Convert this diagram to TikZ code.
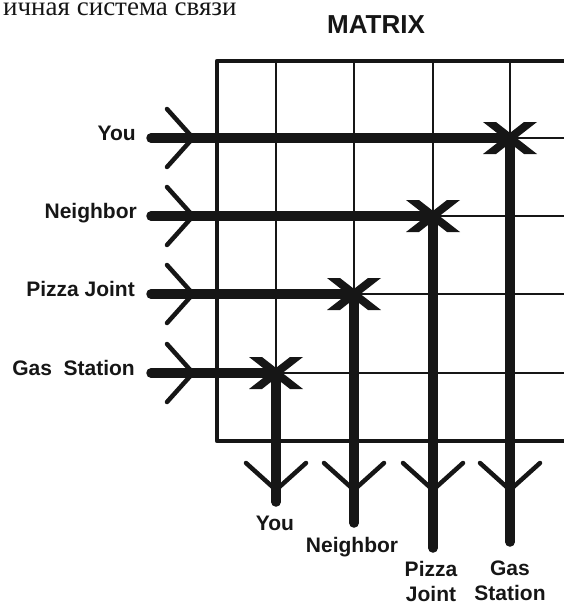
\documentclass[tikz,border=0pt]{standalone}
\usepackage{fontspec}
\setmainfont{Liberation Sans}
\newfontfamily\cyrserif{Liberation Serif}
\usepackage{xcolor}
\usetikzlibrary{positioning}
\definecolor{ink}{HTML}{161616}

\begin{document}
\begin{tikzpicture}[
  x=1pt,y=-1pt,
  every node/.style={inner sep=0pt,text=ink},
  lbl/.style={font=\fontsize{21}{25}\selectfont\bfseries,align=center},
  frame/.style={draw=ink,line width=4.5pt,line join=round},
  gridline/.style={draw=ink,line width=2.5pt},
  bus/.style={draw=ink,line width=9.5pt,line cap=round},
  chev/.style={draw=ink,line width=4.5pt,line cap=round,line join=miter},
  switchx/.pic={
    \fill[ink] (-27,-16) -- (-14,-16) -- (27,16) -- (14,16) -- cycle;
    \fill[ink] (27,-16) -- (14,-16) -- (-27,16) -- (-14,16) -- cycle;}]
  \useasboundingbox (0,0) rectangle (564,605);

  % title, cut off by the page
  \node[font=\cyrserif\fontsize{27}{30}\selectfont,anchor=base west] (title) at (3,15) {ичная система связи};
  \node[font=\fontsize{26}{30}\selectfont\bfseries,anchor=base] (hdr) at (376,33) {MATRIX};

  % grid
  \coordinate (tl) at (217,61);
  \coordinate (bl) at (217,441);
  \draw[gridline] (276,61) -- (276,441);
  \draw[gridline] (354,61) -- (354,441);
  \draw[gridline] (433,61) -- (433,441);
  \draw[gridline] (510,61) -- (510,441);
  \draw[gridline] (217,138) -- (575,138);
  \draw[gridline] (217,216) -- (575,216);
  \draw[gridline] (217,294) -- (575,294);
  \draw[gridline] (217,373) -- (575,373);
  \draw[frame] (575,61) -- (tl) -- (bl) -- (575,441);

  % callers
  \node[lbl,anchor=mid east] (inYou) at (136,138) {You};
  \node[lbl,anchor=mid east] (inNeighbor) at (137,216) {Neighbor};
  \node[lbl,anchor=mid east] (inPizza) at (135,294) {Pizza Joint};
  \node[lbl,anchor=mid east] (inGas) at (135,373) {Gas\ \ Station};

  % called parties
  \node[lbl,anchor=base] (outYou) at (275,530) {You};
  \node[lbl,anchor=base] (outNeighbor) at (352,552) {Neighbor};
  \node[lbl,anchor=north] (outPizza) at (431,561) {Pizza\\Joint};
  \node[lbl,anchor=north] (outGas) at (510,561) {Gas\\Station};

  % crosspoints
  \coordinate (xYou) at (510,138);
  \coordinate (xNeighbor) at (433,216);
  \coordinate (xPizza) at (354,294);
  \coordinate (xGas) at (276,373);

  % line ends
  \coordinate (sYou) at (151,138);
  \coordinate (sNeighbor) at (151,216);
  \coordinate (sPizza) at (151,294);
  \coordinate (sGas) at (151,373);
  \coordinate (eYou) at (276,502);
  \coordinate (eNeighbor) at (354,523);
  \coordinate (ePizza) at (433,548);
  \coordinate (eGas) at (510,542);

  \draw[bus] (sYou) -- (xYou) -- (eGas);
  \draw[bus] (sNeighbor) -- (xNeighbor) -- (ePizza);
  \draw[bus] (sPizza) -- (xPizza) -- (eNeighbor);
  \draw[bus] (sGas) -- (xGas) -- (eYou);

  % arrow heads
  \coordinate (aYou) at (193,138);
  \coordinate (aNeighbor) at (193,216);
  \coordinate (aPizza) at (193,294);
  \coordinate (aGas) at (193,373);
  \draw[chev] ([shift={(-26,-29)}]aYou) -- (aYou) -- ([shift={(-26,29)}]aYou);
  \draw[chev] ([shift={(-26,-29)}]aNeighbor) -- (aNeighbor) -- ([shift={(-26,29)}]aNeighbor);
  \draw[chev] ([shift={(-26,-29)}]aPizza) -- (aPizza) -- ([shift={(-26,29)}]aPizza);
  \draw[chev] ([shift={(-26,-29)}]aGas) -- (aGas) -- ([shift={(-26,29)}]aGas);

  \coordinate (bYou) at (276,490);
  \coordinate (bNeighbor) at (354,490);
  \coordinate (bPizza) at (433,490);
  \coordinate (bGas) at (510,490);
  \draw[chev] ([shift={(-30,-27)}]bYou) -- (bYou) -- ([shift={(30,-27)}]bYou);
  \draw[chev] ([shift={(-30,-27)}]bNeighbor) -- (bNeighbor) -- ([shift={(30,-27)}]bNeighbor);
  \draw[chev] ([shift={(-30,-27)}]bPizza) -- (bPizza) -- ([shift={(30,-27)}]bPizza);
  \draw[chev] ([shift={(-30,-27)}]bGas) -- (bGas) -- ([shift={(30,-27)}]bGas);

  \pic at (xYou) {switchx};
  \pic at (xNeighbor) {switchx};
  \pic at (xPizza) {switchx};
  \pic at (xGas) {switchx};
\end{tikzpicture}
\end{document}
